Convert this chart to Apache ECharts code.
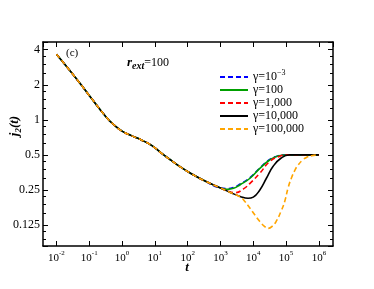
<!DOCTYPE html>
<html><head><meta charset="utf-8">
<script src="https://cdn.jsdelivr.net/npm/echarts@6/dist/echarts.min.js"></script>
<style>html,body{margin:0;padding:0;background:#fff}#c{width:374px;height:289px}</style>
</head><body><div id="c"></div>
<script>
// ---- data ----
const seriesNames = ['γ=10^-3', 'γ=100', 'γ=1,000', 'γ=10,000', 'γ=100,000'];
const seriesColors = ['#0000ff', '#00a000', '#ff0000', '#000000', '#ffa500'];
const seriesDashed = [true, false, true, false, true];

// shared early-time part (t from 1e-2 to 1e3)
const tCommon = [0.01, 0.0316, 0.1, 0.316, 0.562, 1, 2, 3.98, 7.94, 15.8, 31.6, 63.1, 126, 316, 1000];
const jCommon = [3.66, 2.46, 1.62, 1.07, 0.907, 0.80, 0.728, 0.669, 0.603, 0.518, 0.448, 0.39, 0.346, 0.301, 0.26];

// late-time parts
const tBlue  = [1585, 2512, 3981, 7943, 15849, 31623, 56234, 100000, 316228, 1000000];
const jBlue  = [0.257, 0.263, 0.281, 0.319, 0.386, 0.456, 0.49, 0.5, 0.5, 0.5];
const tGreen = [1585, 2512, 3981, 7943, 15849, 31623, 56234, 100000, 316228, 1000000];
const jGreen = [0.253, 0.258, 0.277, 0.315, 0.383, 0.452, 0.489, 0.499, 0.5, 0.5];
const tRed   = [1585, 2818, 5012, 7943, 15849, 31623, 63096, 112202, 316228, 1000000];
const jRed   = [0.245, 0.237, 0.255, 0.285, 0.348, 0.438, 0.485, 0.5, 0.5, 0.5];
const tBlack = [1995, 3981, 6918, 10000, 15849, 25119, 39811, 70795, 125893, 316228, 1000000];
const jBlack = [0.238, 0.22, 0.212, 0.217, 0.25, 0.315, 0.397, 0.47, 0.5, 0.5, 0.5];
const tOrange = [1995, 3981, 5623, 7943, 11220, 15849, 22387, 28184, 38019, 51286, 70795, 91201, 114815, 144544, 186209, 234423, 316228, 416869, 602560, 851138, 1000000];
const jOrange = [0.238, 0.218, 0.198, 0.174, 0.152, 0.134, 0.121, 0.117, 0.122, 0.136, 0.165, 0.2, 0.26, 0.315, 0.37, 0.41, 0.45, 0.475, 0.492, 0.499, 0.5];

const tails = [[tBlue, jBlue], [tGreen, jGreen], [tRed, jRed], [tBlack, jBlack], [tOrange, jOrange]];

const xTickExponents = [-2, -1, 0, 1, 2, 3, 4, 5, 6];
const yTickLabels = [4, 2, 1, 0.5, 0.25, 0.125];

// ---- chart ----
const FONT = 'Liberation Serif';
function pairs(t, j) { return t.map((v, i) => [v, j[i]]); }

const series = seriesNames.map((name, k) => ({
  name: name,
  type: 'line',
  symbol: 'none',
  showSymbol: false,
  smooth: 0.5,
  xAxisIndex: 0, yAxisIndex: 0,
  lineStyle: { color: seriesColors[k], width: 1.6, type: seriesDashed[k] ? [5, 3] : 'solid' },
  itemStyle: { color: seriesColors[k] },
  data: pairs(tCommon, jCommon).concat(pairs(tails[k][0], tails[k][1]))
}));

const axisLineStyle = { show: true, lineStyle: { color: '#000', width: 1.5 } };
const xMin = 0.00389, xMax = 2.69e6;
const yMin = 0.0825, yMax = 4.66;

function xFmt(v) {
  const e = Math.log10(v);
  const r = Math.round(e);
  if (Math.abs(e - r) > 0.01 || xTickExponents.indexOf(r) < 0) return '';
  return '{b|10}{s|' + r + '}';
}
function yFmt(v) {
  for (const t of yTickLabels) if (Math.abs(v - t) / t < 1e-3) return String(t);
  return '';
}

const option = {
  animation: false,
  backgroundColor: '#fff',
  grid: { left: 43, right: 41, top: 42, bottom: 43, containLabel: false },
  xAxis: [
    { type: 'log', logBase: 10, min: xMin, max: xMax, position: 'bottom',
      axisLine: axisLineStyle,
      axisTick: { show: true, inside: true, length: 5, lineStyle: { color: '#000', width: 1 } },
      minorTick: { show: false }, splitLine: { show: false },
      axisLabel: { show: true, margin: 4, showMinLabel: false, showMaxLabel: false, formatter: xFmt,
        rich: { b: { fontFamily: FONT, fontSize: 11, color: '#000', lineHeight: 16 },
                s: { fontFamily: FONT, fontSize: 7, color: '#000', lineHeight: 8, verticalAlign: 'top' } } } },
    { type: 'log', logBase: 10, min: xMin, max: xMax, position: 'top',
      axisLine: axisLineStyle,
      axisTick: { show: true, inside: true, length: 5, lineStyle: { color: '#000', width: 1 } },
      minorTick: { show: false }, splitLine: { show: false }, axisLabel: { show: false } }
  ],
  yAxis: [
    { type: 'log', logBase: 2, min: yMin, max: yMax, position: 'left',
      axisLine: axisLineStyle,
      axisTick: { show: true, inside: true, length: 5, lineStyle: { color: '#000', width: 1 } },
      minorTick: { show: true, splitNumber: 4, length: 3, lineStyle: { color: '#000', width: 1 } },
      splitLine: { show: false }, minorSplitLine: { show: false },
      axisLabel: { show: true, margin: 3, showMinLabel: false, showMaxLabel: false, formatter: yFmt,
        fontFamily: FONT, fontSize: 12, color: '#000' } },
    { type: 'log', logBase: 2, min: yMin, max: yMax, position: 'right',
      axisLine: axisLineStyle,
      axisTick: { show: true, inside: true, length: 5, lineStyle: { color: '#000', width: 1 } },
      minorTick: { show: true, splitNumber: 4, length: 3, lineStyle: { color: '#000', width: 1 } },
      splitLine: { show: false }, axisLabel: { show: false } }
  ],
  legend: {
    data: seriesNames,
    orient: 'vertical',
    left: 219, top: 69,
    itemWidth: 28, itemHeight: 12, itemGap: -3,
    padding: 0,
    selectedMode: false,
    itemStyle: { opacity: 0 },
    formatter: function (name) {
      const m = name.match(/^(.*)\^(.*)$/);
      if (m) return '{b|' + m[1] + '}{s|' + m[2].replace('-', '−') + '}';
      return '{b|' + name + '}';
    },
    textStyle: { fontFamily: FONT, fontSize: 12, color: '#000', lineHeight: 16,
      rich: { b: { fontFamily: FONT, fontSize: 12, color: '#000', lineHeight: 16 },
              s: { fontFamily: FONT, fontSize: 8, color: '#000', lineHeight: 8, verticalAlign: 'top' } } }
  },
  graphic: [
    { type: 'text', x: 66, y: 53.5, style: { text: '(c)', font: '11px "Liberation Serif"', fill: '#000', verticalAlign: 'middle' } },
    { type: 'text', x: 127, y: 63, style: {
        text: '{r|r}{e|ext}{n|=100}', verticalAlign: 'middle',
        rich: { r: { fontFamily: FONT, fontSize: 13, fontStyle: 'italic', fontWeight: 'bold', fill: '#000', lineHeight: 16 },
                e: { fontFamily: FONT, fontSize: 10, fontStyle: 'italic', fontWeight: 'bold', fill: '#000', lineHeight: 8, verticalAlign: 'bottom' },
                n: { fontFamily: FONT, fontSize: 12, fill: '#000', lineHeight: 16 } } } },
    { type: 'text', x: 187, y: 268, style: { text: 't', font: 'italic bold 13px "Liberation Serif"', fill: '#000', align: 'center', verticalAlign: 'middle' } },
    { type: 'text', x: 15, y: 126, rotation: Math.PI / 2, style: {
        text: '{j|j}{s|2}{j|(t)}', align: 'center', verticalAlign: 'middle',
        rich: { j: { fontFamily: FONT, fontSize: 13, fontStyle: 'italic', fontWeight: 'bold', fill: '#000', lineHeight: 16 },
                s: { fontFamily: FONT, fontSize: 9, fontStyle: 'italic', fontWeight: 'bold', fill: '#000', lineHeight: 8, verticalAlign: 'bottom' } } } }
  ],
  series: series
};

const chart = echarts.init(document.getElementById('c'), null, { renderer: 'canvas' });
chart.setOption(option);
</script>
</body></html>
